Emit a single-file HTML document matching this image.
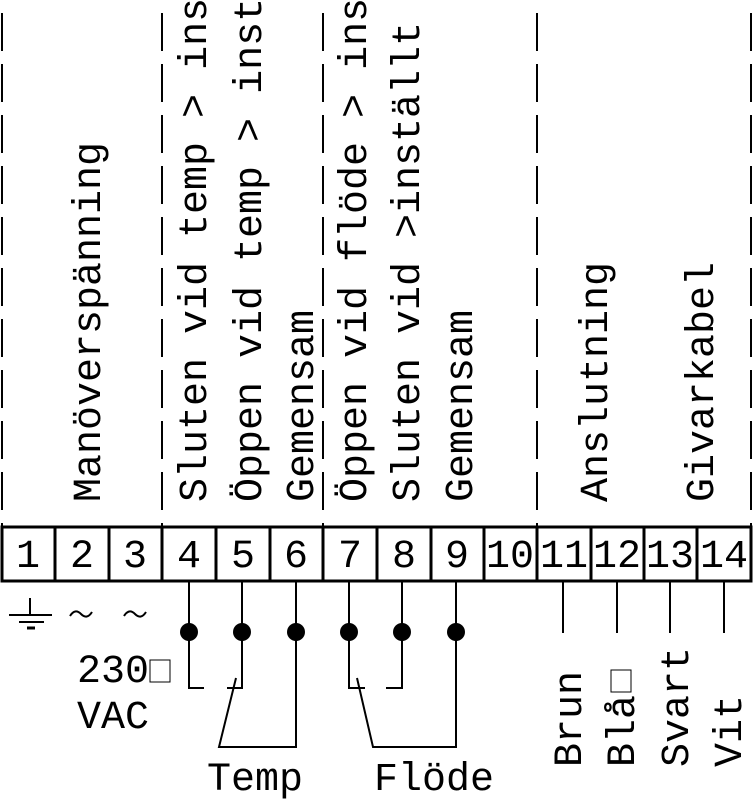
<!DOCTYPE html>
<html><head><meta charset="utf-8"><style>
html,body{margin:0;padding:0;background:#fff;}
svg{display:block;}
text{font-family:"Liberation Mono","DejaVu Sans Mono",monospace;font-size:40px;fill:#000;}
</style></head><body>
<svg width="753" height="800" viewBox="0 0 753 800" xmlns="http://www.w3.org/2000/svg">
<g stroke="#000" stroke-width="2" stroke-dasharray="38 13" stroke-dashoffset="-1" fill="none">
<line x1="2" y1="12" x2="2" y2="527"/>
<line x1="162" y1="12" x2="162" y2="527"/>
<line x1="323" y1="12" x2="323" y2="527"/>
<line x1="537" y1="12" x2="537" y2="527"/>
<line x1="751" y1="12" x2="751" y2="527"/>
</g>
<g transform="rotate(-90)">
<text x="-502" y="100">Manöverspänning</text>
<text x="-502" y="206">Sluten vid temp &gt; inställt</text>
<text x="-502" y="261">Öppen vid temp &gt; inställt</text>
<text x="-502" y="313">Gemensam</text>
<text x="-502" y="366">Öppen vid flöde &gt; inställt</text>
<text x="-502" y="419">Sluten vid &gt;inställt</text>
<text x="-502" y="472">Gemensam</text>
<text x="-502" y="607">Anslutning</text>
<text x="-502" y="713">Givarkabel</text>
<text x="-767" y="581">Brun</text>
<text x="-767" y="634">Blå</text>
<rect x="-692" y="611" width="22" height="20" fill="none" stroke="#000" stroke-width="1"/>
<text x="-767" y="688">Svart</text>
<text x="-767" y="741">Vit</text>
</g>
<rect x="2" y="527" width="749" height="54" fill="none" stroke="#000" stroke-width="3"/>
<g stroke="#000" stroke-width="3">
<line x1="55" y1="527" x2="55" y2="581"/><line x1="109" y1="527" x2="109" y2="581"/>
<line x1="162" y1="527" x2="162" y2="581"/><line x1="216" y1="527" x2="216" y2="581"/>
<line x1="270" y1="527" x2="270" y2="581"/><line x1="323" y1="527" x2="323" y2="581"/>
<line x1="377" y1="527" x2="377" y2="581"/><line x1="431" y1="527" x2="431" y2="581"/>
<line x1="484" y1="527" x2="484" y2="581"/><line x1="537" y1="527" x2="537" y2="581"/>
<line x1="591" y1="527" x2="591" y2="581"/><line x1="644" y1="527" x2="644" y2="581"/>
<line x1="697" y1="527" x2="697" y2="581"/>
</g>
<g text-anchor="middle">
<text x="28" y="567">1</text><text x="82" y="567">2</text><text x="135" y="567">3</text>
<text x="189" y="567">4</text><text x="243" y="567">5</text><text x="296" y="567">6</text>
<text x="350" y="567">7</text><text x="404" y="567">8</text><text x="457" y="567">9</text>
<text x="510" y="567" textLength="48">10</text><text x="564" y="567" textLength="48">11</text>
<text x="617" y="567" textLength="48">12</text><text x="670" y="567" textLength="48">13</text>
<text x="724" y="567" textLength="48">14</text>
</g>
<g stroke="#000" stroke-width="2" fill="none">
<line x1="30" y1="598" x2="30" y2="615"/>
<line x1="9" y1="615" x2="52" y2="615"/>
<line x1="19" y1="622" x2="44" y2="622"/>
<line x1="27" y1="628" x2="35" y2="628" stroke-width="3"/>
<path d="M70 616Q75 608 81 614T92 612"/>
<path d="M124 616Q129 608 135 614T146 612"/>
<path d="M189 582V688H204"/>
<path d="M242 582V688H227"/>
<path d="M236 678L219 747H296V582"/>
<path d="M349 582V688H365"/>
<path d="M402 582V688H386"/>
<path d="M357 678L373 747H456V582"/>
<line x1="563" y1="582" x2="563" y2="633"/>
<line x1="617" y1="582" x2="617" y2="633"/>
<line x1="670" y1="582" x2="670" y2="633"/>
<line x1="724" y1="582" x2="724" y2="633"/>
</g>
<g fill="#000">
<circle cx="189" cy="632" r="9"/><circle cx="242" cy="632" r="9"/><circle cx="296" cy="632" r="9"/>
<circle cx="349" cy="632" r="9"/><circle cx="402" cy="632" r="9"/><circle cx="456" cy="632" r="9"/>
</g>
<text x="77" y="682">230</text>
<rect x="150" y="660" width="20" height="22" fill="none" stroke="#000" stroke-width="1"/>
<text x="77" y="728">VAC</text>
<text x="207" y="790">Temp</text>
<text x="374" y="790">Flöde</text>
</svg>
</body></html>
